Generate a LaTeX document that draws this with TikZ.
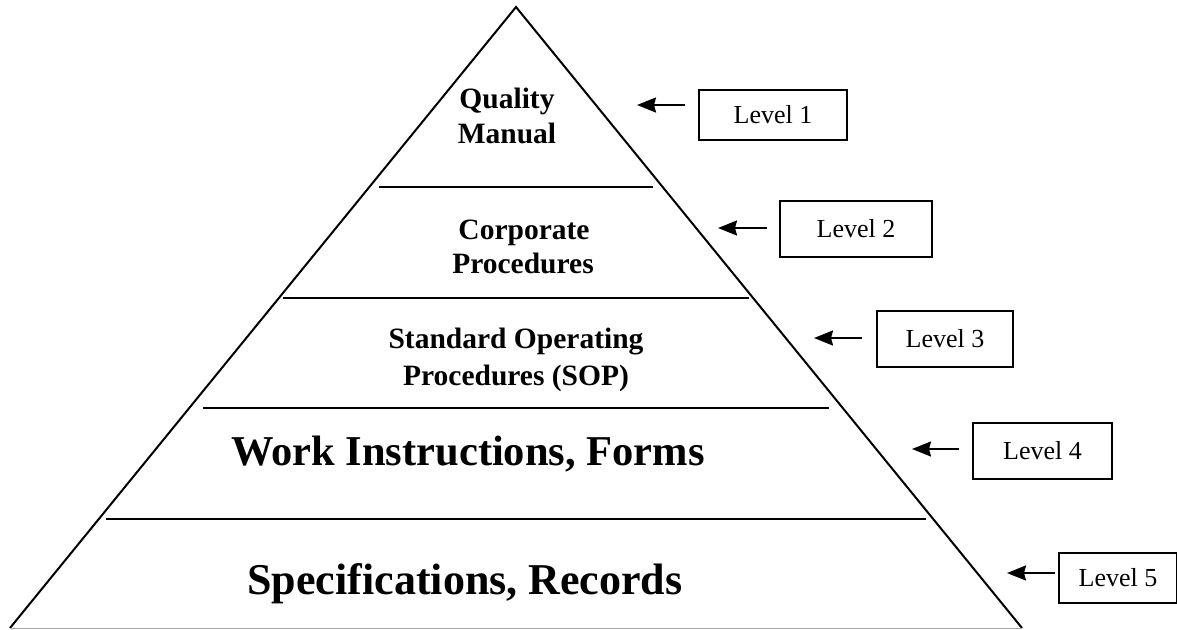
\documentclass[tikz,border=0pt]{standalone}
\usepackage{fontspec}
\setmainfont{Liberation Serif}
\usetikzlibrary{arrows.meta}
\begin{document}
\begin{tikzpicture}[x=1pt,y=-1pt,
  side/.style={line width=2pt},
  baseline/.style={line width=1pt, draw=black!35},
  divider/.style={line width=2.4pt},
  title/.style={font=\bfseries\fontsize{29.5}{35}\selectfont, anchor=base, inner sep=0pt},
  bigtitle/.style={font=\bfseries\fontsize{42.5}{48}\selectfont, anchor=base, inner sep=0pt},
  bigtitleb/.style={font=\bfseries\fontsize{44}{48}\selectfont, anchor=base, inner sep=0pt},
  lvl/.style={draw, line width=2.8pt, inner sep=0pt, font=\fontsize{26}{30}\selectfont},
  arr/.style={line width=2.2pt, -{Stealth[length=19pt,width=15pt,inset=2pt]}}]
\useasboundingbox (0,0) rectangle (1177,629);
% pyramid
\coordinate (apex) at (516,7);
\coordinate (bl) at (10,628);
\coordinate (br) at (1022,628);
\draw[side] (bl) -- (apex) -- (br);
\draw[baseline] (bl) -- (br);
% dividers
\coordinate (d1l) at (379,187); \coordinate (d1r) at (653,187);
\coordinate (d2l) at (283,298); \coordinate (d2r) at (749,298);
\coordinate (d3l) at (203,408); \coordinate (d3r) at (829,408);
\coordinate (d4l) at (106,519); \coordinate (d4r) at (926,519);
\draw[divider] (d1l) -- (d1r);
\draw[divider] (d2l) -- (d2r);
\draw[divider] (d3l) -- (d3r);
\draw[divider] (d4l) -- (d4r);
% texts
\node[title] (t1a) at (507,108) {Quality};
\node[title] (t1b) at (507,143) {Manual};
\node[title] (t2a) at (524,239) {Corporate};
\node[title] (t2b) at (523,273) {Procedures};
\node[title] (t3a) at (516,348) {Standard Operating};
\node[title] (t3b) at (516,385) {Procedures (SOP)};
\node[bigtitle] (t4) at (468,465) {Work Instructions, Forms};
\node[bigtitleb] (t5) at (465,594) {Specifications, Records};
% level boxes
\node[lvl, minimum width=148pt, minimum height=50pt] (L1) at (773,115) {Level 1};
\node[lvl, minimum width=152pt, minimum height=56pt] (L2) at (856,229) {Level 2};
\node[lvl, minimum width=136pt, minimum height=56pt] (L3) at (945,339) {Level 3};
\node[lvl, minimum width=139pt, minimum height=56pt] (L4) at (1042.5,451) {Level 4};
\node[lvl, minimum width=118pt, minimum height=50pt] (L5) at (1118,578) {Level 5};
% arrows
\coordinate (a1s) at (685,105); \coordinate (a1e) at (637,105);
\coordinate (a2s) at (767,228); \coordinate (a2e) at (718,228);
\coordinate (a3s) at (862,338); \coordinate (a3e) at (814,338);
\coordinate (a4s) at (959,449); \coordinate (a4e) at (912,449);
\coordinate (a5s) at (1055,573); \coordinate (a5e) at (1007,573);
\draw[arr] (a1s) -- (a1e);
\draw[arr] (a2s) -- (a2e);
\draw[arr] (a3s) -- (a3e);
\draw[arr] (a4s) -- (a4e);
\draw[arr] (a5s) -- (a5e);
\end{tikzpicture}
\end{document}
